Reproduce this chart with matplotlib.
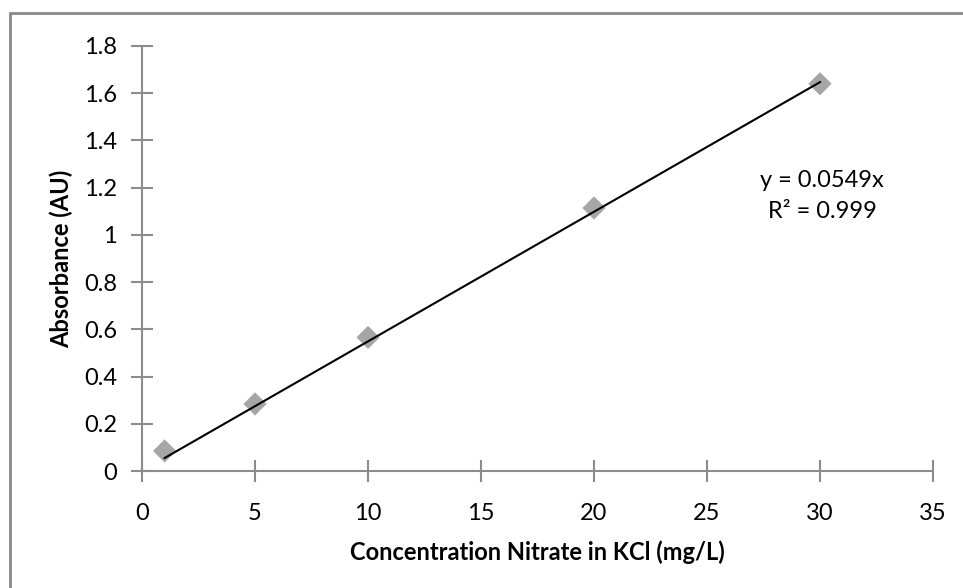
import matplotlib.pyplot as plt
from matplotlib.patches import Rectangle

# Nitrate calibration standards
concentracao = [1, 5, 10, 20, 30]
absorbancia = [0.085, 0.284, 0.566, 1.114, 1.640]
inclinacao = 0.0549
r2 = 0.999

x_ticks = [0, 5, 10, 15, 20, 25, 30, 35]
y_ticks = [0, 0.2, 0.4, 0.6, 0.8, 1.0, 1.2, 1.4, 1.6, 1.8]
y_labels = ["0", "0.2", "0.4", "0.6", "0.8", "1", "1.2", "1.4", "1.6", "1.8"]

plt.rcParams['font.family'] = ['Lato', 'DejaVu Sans']
cinza = '#8c8c8c'

fig = plt.figure(figsize=(9.63, 5.88), dpi=100)
ax = fig.add_axes([142 / 963, 1 - 471 / 588, (933 - 142) / 963, (471 - 46) / 588])

# chart border (cut off on the right and bottom)
fig.patches.append(Rectangle((9.5 / 963, -0.05), 1.2, 1 - 13 / 588 + 0.05,
                             transform=fig.transFigure, fill=False,
                             edgecolor='#888888', linewidth=2, zorder=0))

ax.scatter(concentracao, absorbancia, marker='D', s=140, color='#a6a6a6',
           edgecolors='none', zorder=2)

# linear trendline through the origin
x_linha = [concentracao[0], concentracao[-1]]
y_linha = [inclinacao * x for x in x_linha]
ax.plot(x_linha, y_linha, color='black', linewidth=1.5, zorder=3)

ax.text(30.1, 1.165, f"y = {inclinacao}x\nR² = {r2}", ha='center', va='center',
        fontsize=17, linespacing=1.55)

ax.set_xlim(0, 35)
ax.set_ylim(0, 1.8)
ax.set_xticks(x_ticks)
ax.set_yticks(y_ticks)
ax.set_yticklabels(y_labels)

for lado in ['top', 'right']:
    ax.spines[lado].set_visible(False)
for lado in ['left', 'bottom']:
    ax.spines[lado].set_color(cinza)
    ax.spines[lado].set_linewidth(1.5)

ax.tick_params(axis='both', direction='inout', length=16, width=1.5, color=cinza,
               labelsize=17, labelcolor='black')
ax.tick_params(axis='y', pad=10)
ax.tick_params(axis='x', pad=15)

ax.set_xlabel("Concentration Nitrate in KCl (mg/L)", fontsize=17, fontweight='bold', labelpad=12)
ax.set_ylabel("Absorbance (AU)", fontsize=17, fontweight='bold', labelpad=8)

fig.savefig('out.png', dpi=100)
